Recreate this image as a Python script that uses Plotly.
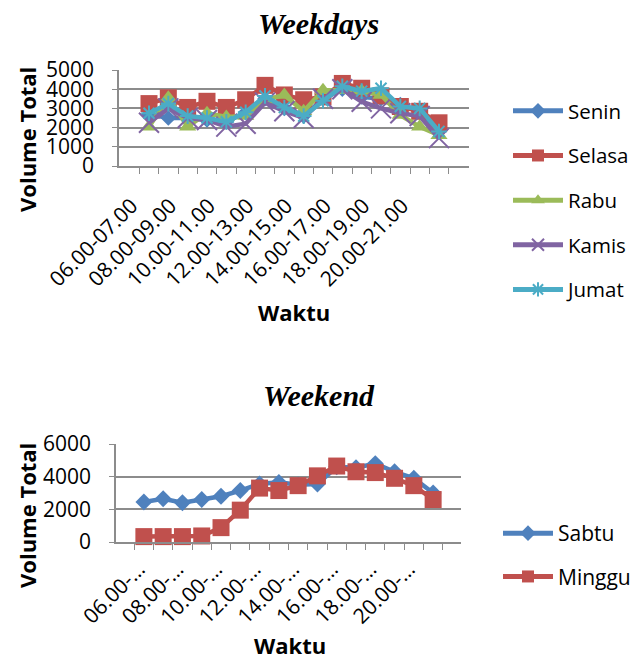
import plotly.graph_objects as go

# Hourly time slots (categories)
hours = ["06.00-07.00", "07.00-08.00", "08.00-09.00", "09.00-10.00",
         "10.00-11.00", "11.00-12.00", "12.00-13.00", "13.00-14.00",
         "14.00-15.00", "15.00-16.00", "16.00-17.00", "17.00-18.00",
         "18.00-19.00", "19.00-20.00", "20.00-21.00", "21.00-22.00"]

# Weekday traffic volumes
senin = [2700, 2500, 2500, 2400, 2300, 2800, 3500, 3000, 2600, 3500, 4000, 3600, 3500, 3200, 2800, 1800]
selasa = [3250, 3550, 3050, 3370, 3050, 3450, 4200, 3700, 3450, 3600, 4300, 4050, 3650, 3100, 2850, 2250]
rabu = [2050, 3550, 2050, 2750, 2550, 2600, 3450, 3700, 2850, 3950, 3950, 3900, 3700, 2650, 2050, 1600]
kamis = [2250, 3000, 2500, 2400, 2050, 2200, 3300, 2850, 2500, 3500, 4000, 3350, 3000, 2750, 2600, 1450]
jumat = [2750, 3250, 2600, 2500, 2300, 2800, 3650, 3050, 2600, 3400, 4150, 3900, 4050, 3100, 3000, 1800]

# Weekend traffic volumes
sabtu = [2450, 2650, 2400, 2600, 2800, 3150, 3550, 3650, 3500, 3550, 4600, 4550, 4800, 4300, 3900, 3000]
minggu = [330, 330, 330, 370, 880, 1950, 3300, 3150, 3450, 4050, 4650, 4300, 4250, 3900, 3450, 2600]

W, H = 631, 660
FONT = "Open Sans"
GRID = "#8c8c8c"
TICK = 21
# trailing spaces nudge the rotated labels back along their baseline
PAD_TOP = "\u2002\u2002\u2009"
PAD_BOT = "\u2009\u2009"

blue, red, green, purple, cyan = "#4F81BD", "#C0504D", "#9BBB59", "#8064A2", "#4BACC6"

fig = go.Figure()

def add(name, y, color, symbol, size, xa, ya, legend, group, open_marker=False):
    marker = dict(symbol=symbol, size=size, color=color)
    if open_marker:
        marker["line"] = dict(color=color, width=2)
    else:
        marker["line"] = dict(width=0)
    fig.add_trace(go.Scatter(
        x=hours, y=y, name=name, mode="lines+markers",
        line=dict(color=color, width=4.5),
        marker=marker, xaxis=xa, yaxis=ya, legend=legend,
        legendgroup=group, cliponaxis=False,
    ))

add("Senin", senin, blue, "diamond", 12, "x", "y", "legend", "a")
add("Selasa", selasa, red, "square", 17, "x", "y", "legend", "b")
add("Rabu", rabu, green, "triangle-up", 15, "x", "y", "legend", "c")
add("Kamis", kamis, purple, "x-thin-open", 20, "x", "y", "legend", "d", True)
add("Jumat", jumat, cyan, "asterisk-open", 13, "x", "y", "legend", "e", True)

add("Sabtu", sabtu, blue, "diamond", 13, "x2", "y2", "legend2", "f")
add("Minggu", minggu, red, "square", 17, "x2", "y2", "legend2", "g")

def px_x(v):
    return v / W

def px_y(v):
    return 1 - v / H

top_labels = [h + PAD_TOP if i % 2 == 0 else "" for i, h in enumerate(hours)]
bot_labels = [h[:6] + "\u2026" + PAD_BOT if i % 2 == 0 else "" for i, h in enumerate(hours)]

xcommon = dict(type="category", tickson="boundaries", ticks="outside", ticklen=6,
               tickcolor=GRID, showline=True, linecolor=GRID, linewidth=1.5,
               showgrid=False, tickangle=-45, tickmode="array", automargin=False,
               tickfont=dict(family=FONT, size=TICK, color="black"))
ycommon = dict(showline=True, linecolor=GRID, linewidth=1.5, ticks="outside", ticklen=5,
               tickcolor=GRID, showgrid=True, gridcolor=GRID, gridwidth=1.5,
               zeroline=False, ticklabelstandoff=14, automargin=False,
               tickfont=dict(family=FONT, size=TICK, color="black"))

legend_common = dict(xanchor="left", yanchor="top", itemwidth=50,
                     itemsizing="constant", bgcolor="rgba(0,0,0,0)")

fig.update_layout(
    width=W, height=H,
    margin=dict(l=0, r=0, t=0, b=0, autoexpand=False),
    paper_bgcolor="white", plot_bgcolor="white",
    xaxis=dict(xcommon, domain=[px_x(119), px_x(469)], anchor="y",
               tickvals=hours, ticktext=top_labels),
    yaxis=dict(ycommon, domain=[px_y(166), px_y(70)], anchor="x",
               range=[0, 5000], dtick=1000),
    xaxis2=dict(xcommon, domain=[px_x(116), px_x(461)], anchor="y2",
                tickvals=hours, ticktext=bot_labels),
    yaxis2=dict(ycommon, domain=[px_y(542), px_y(444)], anchor="x2",
                range=[0, 6000], dtick=2000),
    legend=dict(legend_common, x=px_x(508), y=px_y(91),
                font=dict(family=FONT, size=20.5, color="black"), tracegroupgap=15),
    legend2=dict(legend_common, x=px_x(498), y=px_y(513),
                 font=dict(family=FONT, size=21, color="black"), tracegroupgap=13),
    showlegend=True,
)

title_font = dict(family="Liberation Serif", size=30, color="black")

annotations = [
    dict(text="<b><i>Weekdays</i></b>", x=px_x(319), y=px_y(23), font=title_font),
    dict(text="<b><i>Weekend</i></b>", x=px_x(319), y=px_y(395), font=title_font),
    dict(text="<b>Volume Total</b>", x=px_x(27), y=px_y(140),
         font=dict(family=FONT, size=22, color="black"), textangle=-90),
    dict(text="<b>Volume Total</b>", x=px_x(27), y=px_y(516),
         font=dict(family=FONT, size=22, color="black"), textangle=-90),
    dict(text="<b>Waktu</b>", x=px_x(294), y=px_y(312),
         font=dict(family=FONT, size=22, color="black")),
    dict(text="<b>Waktu</b>", x=px_x(290), y=px_y(645),
         font=dict(family=FONT, size=22, color="black")),
]
for a in annotations:
    fig.add_annotation(xref="paper", yref="paper", showarrow=False,
                       xanchor="center", yanchor="middle", **a)

fig.write_html("out.html")
